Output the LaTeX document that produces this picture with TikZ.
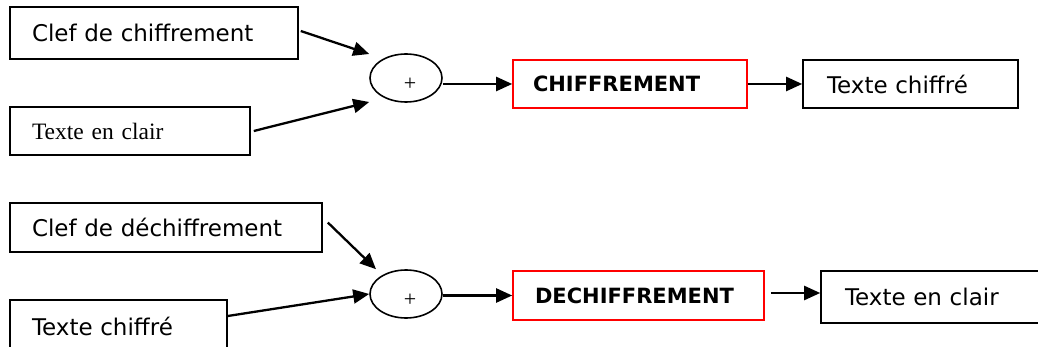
\documentclass[tikz,border=0pt]{standalone}
\usepackage{fontspec}
\usetikzlibrary{arrows.meta,calc,shapes.geometric}
\newfontfamily\casual{DejaVu Sans}
\newfontfamily\romanfont{Liberation Serif}
\begin{document}
\begin{tikzpicture}[x=1pt,y=-1pt,
  box/.style={draw=black, line width=1.6pt, minimum height=48pt, inner xsep=22pt,
    inner ysep=0pt, align=left, font=\casual\fontsize{23}{27}\selectfont},
  cipherbox/.style={box, draw=red, font=\casual\bfseries\fontsize{21}{25}\selectfont},
  sumnode/.style={draw, ellipse, line width=1.6pt, minimum width=72pt,
    minimum height=48pt, inner sep=0pt,
    label={[font=\romanfont\fontsize{22}{22}\selectfont, xshift=4pt, yshift=-6pt]center:+}},
  arr/.style={line width=2.3pt, -{Triangle[length=16pt,width=14pt]}},
]
\useasboundingbox[fill=white] (0,0) rectangle (1038,347);

% encryption chain
\node[box, text width=244pt, minimum height=52pt] (clef1) at (154,33) {Clef de chiffrement};
\node[box, text width=196pt, font=\romanfont\fontsize{23.5}{28}\selectfont] (clair1) at (130,131) {Texte en clair};
\node[sumnode] (ell1) at (406,78) {};
\node[cipherbox, text width=194pt, inner xsep=20pt] (chiff) at (630,84) {CHIFFREMENT};
\node[box, text width=167pt, inner xsep=24pt] (tc1) at (910.5,84) {Texte chiffré};

\draw[arr] ($(clef1.east)+(2,-2)$) -- ($(ell1.west)+(0,-24)$);
\draw[arr] ($(clair1.east)+(3,0)$) -- ($(ell1.west)+(0,24)$);
\draw[arr] (chiff.west -| ell1.east) -- (chiff.west);
\draw[arr] (chiff.east) -- (tc1.west);

% decryption chain
\node[box, text width=268pt, minimum height=49pt] (clef2) at (166,227.5) {Clef de déchiffrement};
\node[box, text width=173pt, minimum height=52pt] (tc2) at (118.5,326) {Texte chiffré};
\node[sumnode] (ell2) at (406,294) {};
\node[cipherbox, text width=207pt, minimum height=49pt] (dech) at (638.5,295.5) {DECHIFFREMENT};
\node[box, text width=182pt, inner xsep=24pt, minimum height=52pt] (clair2) at (936,297) {Texte en clair};

\draw[arr] ($(clef2.east)+(5,-5)$) -- ($(ell2.north)+(-30,0)$);
\draw[arr] ($(tc2.east)+(0,-10)$) -- (ell2.west);
\draw[arr] (dech.west -| ell2.east) -- (dech.west);
\draw[arr] ($(dech.east)+(6,-2.5)$) -- ($(clair2.west)+(0,-4)$);
\end{tikzpicture}
\end{document}
